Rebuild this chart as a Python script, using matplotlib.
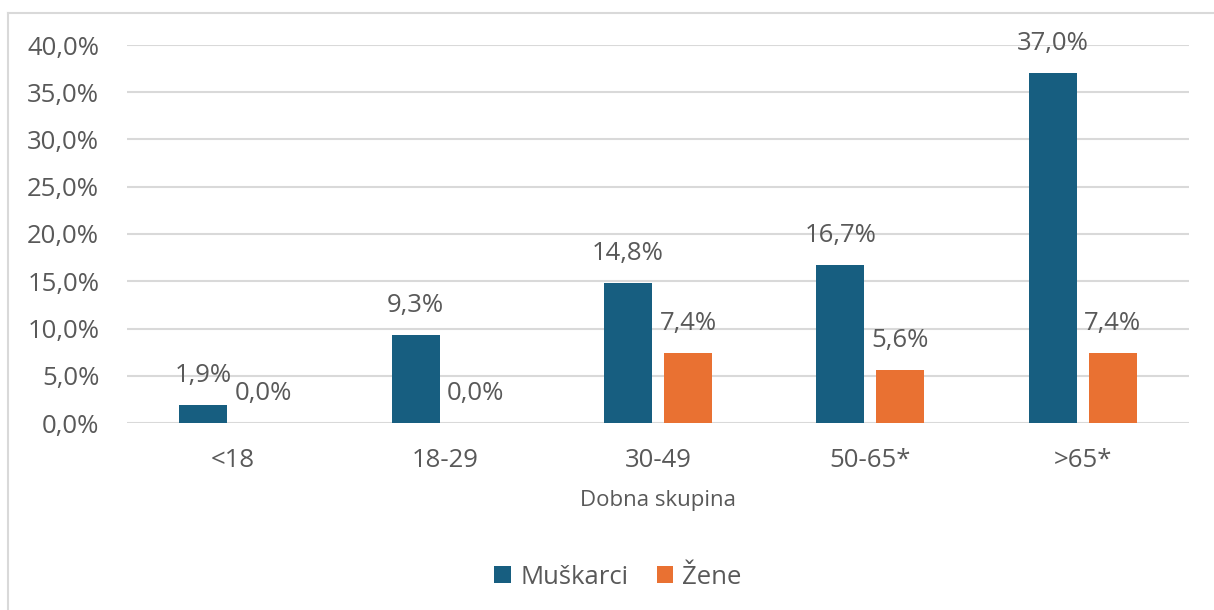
import matplotlib
matplotlib.use("Agg")
import matplotlib.pyplot as plt
from matplotlib.lines import Line2D
from matplotlib.patches import Patch
import numpy as np

categories = ["<18", "18-29", "30-49", "50-65*", ">65*"]
muskarci = [1.9, 9.3, 14.8, 16.7, 37.0]
zene = [0.0, 0.0, 7.4, 5.6, 7.4]
series_names = ["Muškarci", "Žene"]
yticks = [0, 5, 10, 15, 20, 25, 30, 35, 40]

BLUE = "#175E80"
ORANGE = "#E97132"
TXT = "#595959"
GRID = "#D9D9D9"
FS = 18.5

plt.rcParams['font.family'] = ['Open Sans', 'DejaVu Sans']

W, H = 1214, 610
fig = plt.figure(figsize=(W/100, H/100), dpi=100)
# chart-area frame (left and top edges visible)
fig.lines.append(Line2D([8/W, 8/W], [0, 1 - 13/H], transform=fig.transFigure,
                        color=GRID, linewidth=1.5))
fig.lines.append(Line2D([8/W, 1], [1 - 13/H, 1 - 13/H], transform=fig.transFigure,
                        color=GRID, linewidth=1.5))

ax = fig.add_axes([127/W, 1 - 423/H, (1189-127)/W, (423-45)/H])
x = np.arange(len(categories))
bw = 0.226
off = 0.141
ax.bar(x - off, muskarci, bw, color=BLUE, zorder=3)
ax.bar(x + off, zene, bw, color=ORANGE, zorder=3)

def fmt(v):
    return f"{v:.1f}".replace(".", ",") + "%"

for xs, vals in ((x - off, muskarci), (x + off, zene)):
    for xi, v in zip(xs, vals):
        ax.annotate(fmt(v), (xi, v), xytext=(0, 21.5), textcoords="offset points",
                    ha="center", va="center", fontsize=FS, color=TXT, zorder=4)

ax.set_xlim(-0.5, len(categories) - 0.5)
ax.set_ylim(0, 40)
ax.set_yticks(yticks)
ax.set_yticklabels([fmt(v) for v in yticks])
ax.set_xticks(x)
ax.set_xticklabels(categories)
ax.tick_params(axis='y', length=0, pad=20, labelsize=FS, labelcolor=TXT)
ax.tick_params(axis='x', length=0, pad=18, labelsize=FS, labelcolor=TXT)
ax.grid(axis='y', color=GRID, linewidth=1.5, zorder=0)
for s in ax.spines.values():
    s.set_visible(False)
ax.set_xlabel("Dobna skupina", fontsize=16, color=TXT, labelpad=12)

handles = [Patch(facecolor=BLUE), Patch(facecolor=ORANGE)]
fig.legend(handles, series_names, loc="center", bbox_to_anchor=(618/W, 1 - 577/H),
           ncol=2, frameon=False, fontsize=FS, labelcolor=TXT,
           handlelength=0.65, handleheight=0.65, handletextpad=0.35, columnspacing=1.1)

fig.savefig("out.png", dpi=100, facecolor="white")
